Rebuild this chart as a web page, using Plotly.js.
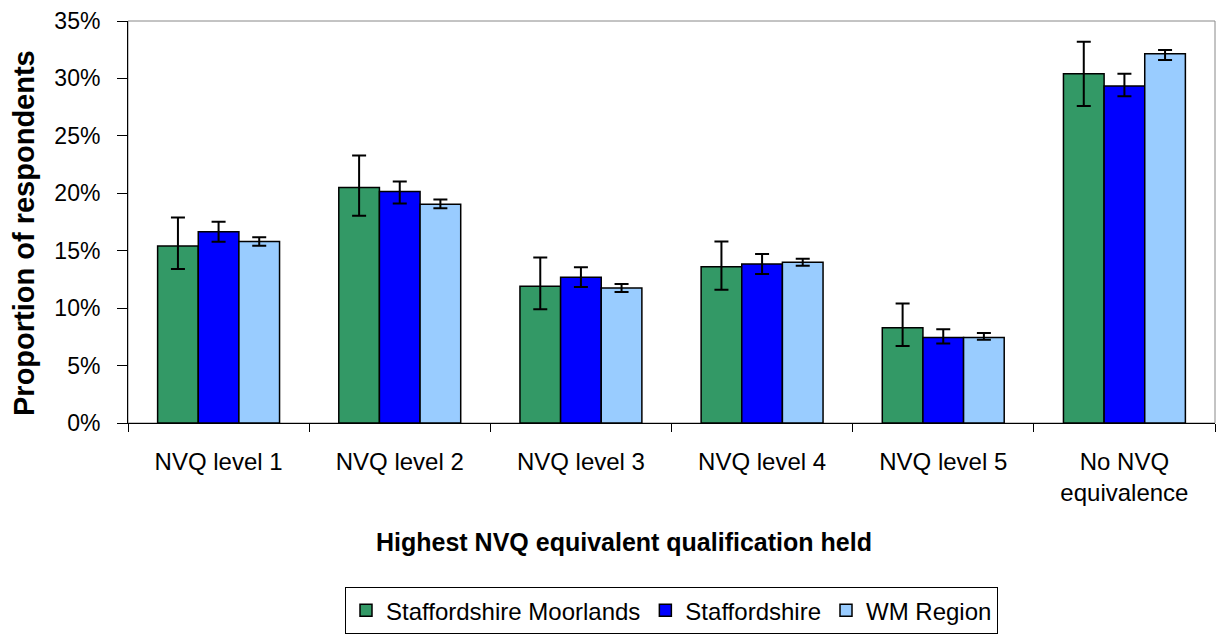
<!DOCTYPE html>
<html>
<head>
<meta charset="utf-8">
<script src="https://cdn.plot.ly/plotly-3.0.1.min.js"></script>
<style>html,body{margin:0;padding:0;background:#fff;}#chart{width:1218px;height:641px;}</style>
</head>
<body>
<div id="chart"></div>
<script>
var categories = ["NVQ level 1", "NVQ level 2", "NVQ level 3", "NVQ level 4", "NVQ level 5", "No NVQ<br>equivalence"];
var seriesNames = ["Staffordshire Moorlands", "Staffordshire", "WM Region"];

var moorlands = [15.4, 20.5, 11.9, 13.6, 8.3, 30.4];
var moorlandsErrPlus = [2.5, 2.8, 2.5, 2.2, 2.1, 2.8];
var moorlandsErrMinus = [2.0, 2.45, 2.0, 2.0, 1.6, 2.8];

var staffordshire = [16.65, 20.15, 12.7, 13.85, 7.45, 29.35];
var staffordshireErrPlus = [0.87, 0.87, 0.85, 0.87, 0.72, 1.05];
var staffordshireErrMinus = [0.87, 1.05, 0.85, 0.87, 0.52, 0.9];

var wmRegion = [15.8, 19.05, 11.75, 14.0, 7.45, 32.15];
var wmErrPlus = [0.37, 0.4, 0.35, 0.3, 0.38, 0.32];
var wmErrMinus = [0.37, 0.35, 0.35, 0.3, 0.2, 0.55];

var yTickVals = [0, 5, 10, 15, 20, 25, 30, 35];
var yTickText = ["0%", "5%", "10%", "15%", "20%", "25%", "30%", "35%"];

var colors = ["#339966", "#0000FF", "#99CCFF"];
var FONT = "Liberation Sans, Arial, sans-serif";

function mk(name, y, ep, em, color) {
  return {
    type: "bar", name: name, x: categories, y: y,
    marker: {color: color, line: {color: "#000", width: 1.5}},
    error_y: {type: "data", symmetric: false, array: ep, arrayminus: em,
              color: "#000", thickness: 2, width: 7, visible: true},
    hoverinfo: "y"
  };
}

var data = [
  mk(seriesNames[0], moorlands, moorlandsErrPlus, moorlandsErrMinus, colors[0]),
  mk(seriesNames[1], staffordshire, staffordshireErrPlus, staffordshireErrMinus, colors[1]),
  mk(seriesNames[2], wmRegion, wmErrPlus, wmErrMinus, colors[2])
];

var layout = {
  width: 1218, height: 641,
  margin: {l: 128, r: 3, t: 21, b: 218},
  paper_bgcolor: "#fff", plot_bgcolor: "#fff",
  font: {family: FONT, size: 22, color: "#000"},
  barmode: "group", bargap: 0.327, bargroupgap: 0,
  showlegend: true,
  legend: {orientation: "h", x: 0.5, xanchor: "center", y: -0.525, yanchor: "bottom",
           bordercolor: "#000", borderwidth: 1, font: {family: FONT, size: 24, color: "#000"},
           traceorder: "normal", itemwidth: 30},
  xaxis: {type: "category", showline: true, linecolor: "#000", linewidth: 1,
          ticks: "outside", tickson: "boundaries", ticklen: 8, tickcolor: "#000",
          showgrid: false, zeroline: false, ticklabelstandoff: 17, automargin: false,
          tickfont: {family: FONT, size: 24, color: "#000"}, fixedrange: true},
  yaxis: {range: [0, 35], tickvals: yTickVals, ticktext: yTickText,
          showline: true, linecolor: "#000", linewidth: 1, ticks: "outside", ticklen: 10,
          tickcolor: "#000", showgrid: false, zeroline: false, ticklabelstandoff: 12,
          automargin: false,
          tickfont: {family: FONT, size: 23, color: "#000"}, fixedrange: true},
  shapes: [{type: "rect", xref: "paper", yref: "paper", x0: 0, x1: 1, y0: 0, y1: 1,
            line: {color: "#888", width: 1}, layer: "below"}],
  annotations: [
    {text: "<b>Proportion of respondents</b>", xref: "paper", yref: "paper",
     x: -0.0957, y: 0.4726, xanchor: "center", yanchor: "middle", textangle: -90,
     showarrow: false, font: {family: FONT, size: 29, color: "#000"}},
    {text: "<b>Highest NVQ equivalent qualification held</b>", xref: "paper", yref: "paper",
     x: 0.4563, y: -0.297, xanchor: "center", yanchor: "middle",
     showarrow: false, font: {family: FONT, size: 25, color: "#000"}}
  ]
};

Plotly.newPlot("chart", data, layout, {displayModeBar: false, staticPlot: true});
</script>
</body>
</html>
